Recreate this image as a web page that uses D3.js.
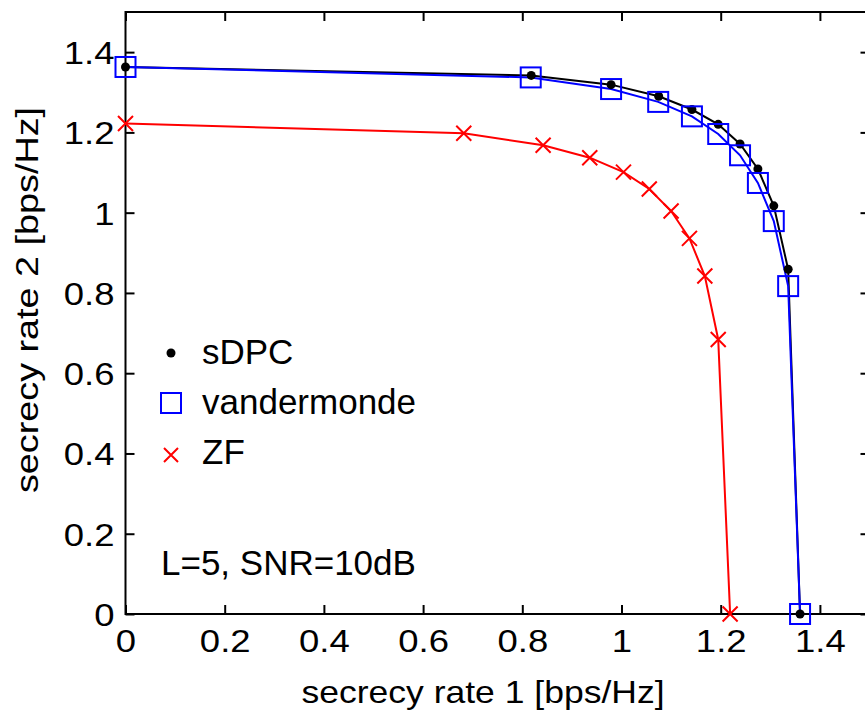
<!DOCTYPE html>
<html>
<head>
<meta charset="utf-8">
<script src="https://cdn.jsdelivr.net/npm/d3@7"></script>
<style>
body { margin: 0; background: #fff; }
svg { display: block; font-family: "Liberation Sans", Arial, sans-serif; }
</style>
</head>
<body>
<svg id="chart" width="865" height="714"></svg>
<script>
// values
var sdpc_r1 = [0, 0.818, 0.979, 1.075, 1.142, 1.195, 1.239, 1.275, 1.307, 1.336, 1.360];
var sdpc_r2 = [1.363, 1.342, 1.319, 1.290, 1.257, 1.220, 1.171, 1.109, 1.017, 0.859, 0];
var vdm_r1 = [0, 0.817, 0.979, 1.074, 1.142, 1.195, 1.239, 1.275, 1.307, 1.336, 1.360];
var vdm_r2 = [1.363, 1.337, 1.308, 1.276, 1.240, 1.196, 1.143, 1.074, 0.979, 0.817, 0];
var zf_r1 = [0, 0.682, 0.842, 0.936, 1.004, 1.056, 1.100, 1.137, 1.168, 1.195, 1.219];
var zf_r2 = [1.222, 1.198, 1.168, 1.137, 1.101, 1.059, 1.004, 0.936, 0.842, 0.684, 0];
var tick_values = [0, 0.2, 0.4, 0.6, 0.8, 1, 1.2, 1.4];
var legend_names = ['sDPC', 'vandermonde', 'ZF'];
var note_text = 'L=5, SNR=10dB';

var svg = d3.select('#chart');
var left = 125.5, right = 869.5, top_y = 12, bottom = 614;

var x = d3.scaleLinear().domain([0, 1.5]).range([left, right]);
var y = d3.scaleLinear().domain([0, 1.5]).range([bottom, top_y]);
var fmt = d3.format('~g');

function stretch(sel, k) {
    sel.each(function() {
        var w = this.getComputedTextLength();
        d3.select(this).attr('textLength', w * k).attr('lengthAdjust', 'spacingAndGlyphs');
    });
}

function style_axis(g) {
    g.select('.domain').remove();
    g.selectAll('line').attr('stroke', '#000').attr('stroke-width', 2);
    g.selectAll('text').attr('fill', '#000').style('font-size', '32px').style('font-family', '"Liberation Sans", Arial, sans-serif');
}

var gx = svg.append('g').attr('transform', 'translate(0,' + bottom + ')')
    .call(d3.axisBottom(x).tickValues(tick_values).tickFormat(fmt).tickSizeInner(-9).tickSizeOuter(0).tickPadding(15));
style_axis(gx);
stretch(gx.selectAll('text'), 1.14);

var gxt = svg.append('g').attr('transform', 'translate(0,' + top_y + ')')
    .call(d3.axisTop(x).tickValues(tick_values).tickFormat('').tickSizeInner(-9).tickSizeOuter(0));
style_axis(gxt);

var gy = svg.append('g').attr('transform', 'translate(' + left + ',0)')
    .call(d3.axisLeft(y).tickValues(tick_values).tickFormat(fmt).tickSizeInner(-9).tickSizeOuter(0).tickPadding(11));
style_axis(gy);
gy.selectAll('text').attr('dy', '0.36em');
stretch(gy.selectAll('text'), 1.14);

var gyr = svg.append('g').attr('transform', 'translate(' + right + ',0)')
    .call(d3.axisRight(y).tickValues(tick_values).tickFormat('').tickSizeInner(-9).tickSizeOuter(0));
style_axis(gyr);

svg.append('rect')
    .attr('x', left).attr('y', top_y)
    .attr('width', right - left).attr('height', bottom - top_y)
    .attr('fill', 'none').attr('stroke', '#000').attr('stroke-width', 2);

// axis titles
svg.append('text')
    .attr('x', 483).attr('y', 703)
    .attr('text-anchor', 'middle')
    .style('font-size', '32px')
    .attr('textLength', 363).attr('lengthAdjust', 'spacingAndGlyphs')
    .text('secrecy rate 1 [bps/Hz]');

svg.append('text')
    .attr('transform', 'translate(37.5,300) rotate(-90)')
    .attr('text-anchor', 'middle')
    .style('font-size', '32px')
    .attr('textLength', 386).attr('lengthAdjust', 'spacingAndGlyphs')
    .text('secrecy rate 2 [bps/Hz]');

var line = d3.line()
    .x(function(d) { return x(d[0]); })
    .y(function(d) { return y(d[1]); });

var sdpc = d3.zip(sdpc_r1, sdpc_r2);
var vdm = d3.zip(vdm_r1, vdm_r2);
var zf = d3.zip(zf_r1, zf_r2);

svg.append('path').datum(sdpc).attr('d', line)
    .attr('fill', 'none').attr('stroke', '#000').attr('stroke-width', 2);
svg.append('path').datum(vdm).attr('d', line)
    .attr('fill', 'none').attr('stroke', '#0000ff').attr('stroke-width', 2);
svg.append('path').datum(zf).attr('d', line)
    .attr('fill', 'none').attr('stroke', '#ff0000').attr('stroke-width', 2);

svg.append('g').selectAll('circle')
    .data(sdpc).enter().append('circle')
    .attr('cx', function(d) { return x(d[0]); })
    .attr('cy', function(d) { return y(d[1]); })
    .attr('r', 4.5).attr('fill', '#000');

svg.append('g').selectAll('rect')
    .data(vdm).enter().append('rect')
    .attr('x', function(d) { return x(d[0]) - 10; })
    .attr('y', function(d) { return y(d[1]) - 10; })
    .attr('width', 20).attr('height', 20)
    .attr('fill', 'none').attr('stroke', '#0000ff').attr('stroke-width', 2);

var cross = 'M-7.5,-7.5L7.5,7.5M-7.5,7.5L7.5,-7.5';
svg.append('g').selectAll('path')
    .data(zf).enter().append('path')
    .attr('transform', function(d) { return 'translate(' + x(d[0]) + ',' + y(d[1]) + ')'; })
    .attr('d', cross)
    .attr('fill', 'none').attr('stroke', '#ff0000').attr('stroke-width', 2);

// legend
var legend = svg.append('g');
var leg_y = [353, 403, 453];
legend_names.forEach(function(name, i) {
    var cy = leg_y[i];
    if (i == 0) {
        legend.append('circle').attr('cx', 171).attr('cy', cy).attr('r', 4.5).attr('fill', '#000');
    } else if (i == 1) {
        legend.append('rect').attr('x', 161).attr('y', cy - 10).attr('width', 20).attr('height', 20)
            .attr('fill', 'none').attr('stroke', '#0000ff').attr('stroke-width', 2);
    } else {
        legend.append('path').attr('transform', 'translate(171,' + (cy + 2) + ')')
            .attr('d', 'M-7,-7L7,7M-7,7L7,-7')
            .attr('fill', 'none').attr('stroke', '#ff0000').attr('stroke-width', 2);
    }
    legend.append('text')
        .attr('x', 202).attr('y', cy + 11)
        .style('font-size', '35px')
        .text(name);
});

svg.append('text')
    .attr('x', 161).attr('y', 575)
    .style('font-size', '35px')
    .text(note_text);
</script>
</body>
</html>
